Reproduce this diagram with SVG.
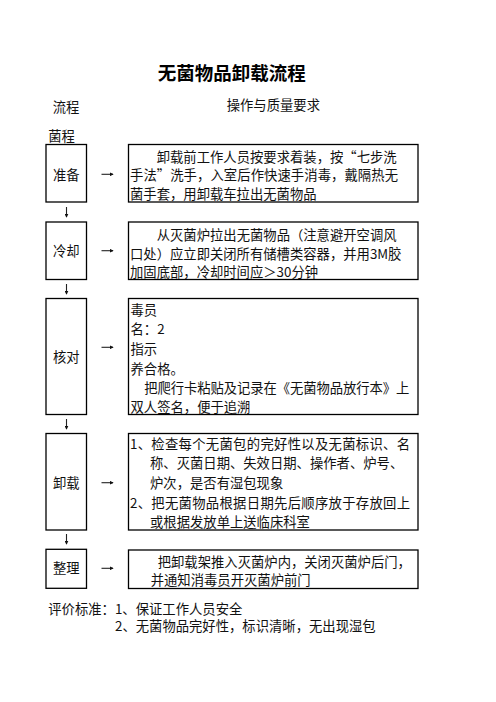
<svg xmlns="http://www.w3.org/2000/svg" width="496" height="702" viewBox="0 0 496 702">
<style>
text{font-family:"Noto Sans CJK SC","Noto Sans",sans-serif;font-size:13.33px;fill:#111}
.title{font-size:18.5px;font-weight:bold;fill:#000}
.mid{text-anchor:middle}
.box{fill:#fff;stroke:#000;stroke-width:1.3}
.conn{stroke:#222;stroke-width:1.1;fill:none;marker-end:url(#ah)}
</style>
<defs>
<marker id="ah" viewBox="0 0 6 6" refX="5" refY="3" markerWidth="4" markerHeight="4" orient="auto" markerUnits="userSpaceOnUse">
<path d="M0,0 L6,3 L0,6 z" fill="#111"/>
</marker>
</defs>
<rect width="496" height="702" fill="#fff"/>
<g id="header">
<text class="title mid" x="231.7" y="80">无菌物品卸载流程</text>
<text x="52.7" y="112">流程</text>
<text x="226.7" y="110">操作与质量要求</text>
<text x="48.3" y="141">菌程</text>
</g>
<g id="connectors">
<path class="conn" d="M101.5,174.3 H113"/>
<path class="conn" d="M101.5,250.7 H113"/>
<path class="conn" d="M101.5,347.3 H113"/>
<path class="conn" d="M101.5,482.7 H113"/>
<path class="conn" d="M101.5,568.3 H113"/>
<path class="conn" d="M66.5,207 V217"/>
<path class="conn" d="M66.5,284 V294"/>
<path class="conn" d="M66.5,419 V429"/>
<path class="conn" d="M66.5,534 V544"/>
</g>
<g id="step1">
<rect class="box" x="46" y="144.5" width="40.5" height="57.5"/>
<text class="mid" x="66.3" y="180">准备</text>
</g>
<g id="desc1">
<rect class="box" x="128.5" y="144.5" width="289.5" height="57.5"/>
<text x="156.7" y="161.7" textLength="240" lengthAdjust="spacing">卸载前工作人员按要求着装，按“七步洗</text>
<text x="130" y="180" textLength="268" lengthAdjust="spacing">手法”洗手，入室后作快速手消毒，戴隔热无</text>
<text x="130" y="199.3">菌手套，用卸载车拉出无菌物品</text>
</g>
<g id="step2">
<rect class="box" x="46" y="222" width="40.5" height="57.5"/>
<text class="mid" x="66.3" y="255.7">冷却</text>
</g>
<g id="desc2">
<rect class="box" x="128.5" y="222" width="289.5" height="57.5"/>
<text x="156.7" y="240">从灭菌炉拉出无菌物品（注意避开空调风</text>
<text x="130" y="259">口处）应立即关闭所有储槽类容器，并用3M胶</text>
<text x="130" y="276.7">加固底部，冷却时间应＞30分钟</text>
</g>
<g id="step3">
<rect class="box" x="46" y="298.5" width="40.5" height="116"/>
<text class="mid" x="66.3" y="361.7">核对</text>
</g>
<g id="desc3">
<rect class="box" x="128.5" y="298.5" width="289.5" height="116"/>
<text x="130.5" y="315">毒员</text>
<text x="130.5" y="334.3">名：2</text>
<text x="130.5" y="354.3">指示</text>
<text x="130.5" y="374.3">养合格。</text>
<text x="144.3" y="393.3" textLength="265" lengthAdjust="spacing">把爬行卡粘贴及记录在《无菌物品放行本》上</text>
<text x="130.5" y="411.7">双人签名，便于追溯</text>
</g>
<g id="step4">
<rect class="box" x="46" y="433.5" width="40.5" height="96.5"/>
<text class="mid" x="66.3" y="488.3">卸载</text>
</g>
<g id="desc4">
<rect class="box" x="128.5" y="433.5" width="289.5" height="96.5"/>
<text x="130" y="449" textLength="280" lengthAdjust="spacing">1、检查每个无菌包的完好性以及无菌标识、名</text>
<text x="150" y="468.3">称、灭菌日期、失效日期、操作者、炉号、</text>
<text x="150" y="488.3">炉次，是否有湿包现象</text>
<text x="130" y="508.3" textLength="280" lengthAdjust="spacing">2、把无菌物品根据日期先后顺序放于存放回上</text>
<text x="150" y="527.3">或根据发放单上送临床科室</text>
</g>
<g id="step5">
<rect class="box" x="46" y="549.3" width="40.5" height="39"/>
<text class="mid" x="66.3" y="573.3">整理</text>
</g>
<g id="desc5">
<rect class="box" x="128.5" y="550" width="289.5" height="38.5"/>
<text x="157.7" y="566.7">把卸载架推入灭菌炉内，关闭灭菌炉后门，</text>
<text x="150.7" y="585">并通知消毒员开灭菌炉前门</text>
</g>
<g id="criteria">
<text x="48.3" y="614">评价标准：1、保证工作人员安全</text>
<text x="115" y="630.7">2、无菌物品完好性，标识清晰，无出现湿包</text>
</g>
</svg>
